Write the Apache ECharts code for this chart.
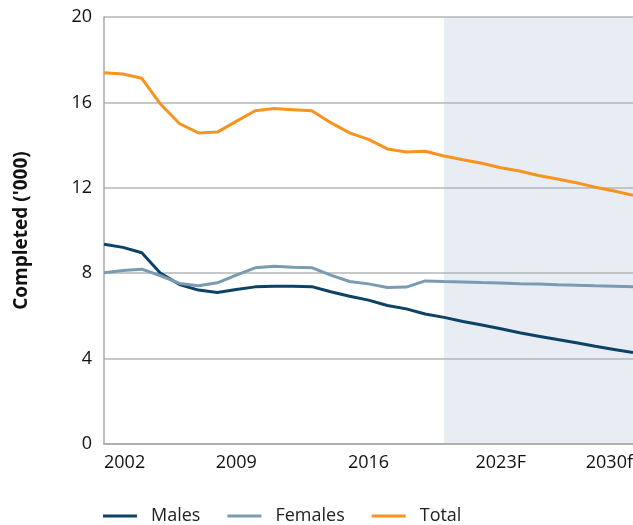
<!DOCTYPE html>
<html>
<head>
<meta charset="utf-8">
<script src="https://cdn.jsdelivr.net/npm/echarts@6/dist/echarts.min.js"></script>
<style>
html,body{margin:0;padding:0;background:#fff;}
#chart{width:633px;height:525px;}
</style>
</head>
<body>
<div id="chart"></div>
<script>
const years = [2002,2003,2004,2005,2006,2007,2008,2009,2010,2011,2012,2013,2014,2015,2016,2017,2018,2019,2020,2021,2022,2023,2024,2025,2026,2027,2028,2029,2030];
const males = [9.36,9.21,8.96,7.99,7.47,7.21,7.10,7.24,7.36,7.39,7.39,7.37,7.13,6.92,6.74,6.49,6.33,6.09,5.93,5.74,5.57,5.40,5.21,5.05,4.89,4.74,4.58,4.43,4.28];
const females = [8.02,8.13,8.19,7.88,7.52,7.41,7.55,7.91,8.25,8.32,8.28,8.26,7.91,7.61,7.50,7.33,7.35,7.64,7.61,7.59,7.56,7.54,7.51,7.49,7.46,7.44,7.41,7.39,7.36];
const total = [17.39,17.33,17.13,15.91,15.00,14.57,14.61,15.11,15.61,15.71,15.66,15.61,15.05,14.57,14.27,13.82,13.68,13.71,13.49,13.31,13.15,12.94,12.79,12.58,12.41,12.24,12.03,11.85,11.65];
const forecastStart = 2020;
const forecastEnd = 2030;
const xTickSuffix = {2023: 'F', 2030: 'f'};
const seriesNames = ['Males', 'Females', 'Total'];

const FONT = '"Open Sans", sans-serif';
const colors = ['#0c4266', '#7a9bb2', '#f7941d'];
const chart = echarts.init(document.getElementById('chart'), null, {renderer: 'canvas'});

const pair = arr => years.map((y, i) => [y, arr[i]]);

chart.setOption({
  animation: false,
  grid: {left: 104, right: 0, top: 17, bottom: 81, containLabel: false, outerBoundsMode: 'none'},
  legend: {
    data: seriesNames,
    left: 103, top: 507, padding: 0,
    itemWidth: 34, itemHeight: 3, itemGap: 27,
    icon: 'rect',
    textStyle: {fontFamily: FONT, fontSize: 18, color: '#222', padding: [0, 0, 0, 9]}
  },
  xAxis: {
    type: 'value', min: 2002, max: 2030, interval: 7, z: 1.5,
    axisLine: {show: true, onZero: false, lineStyle: {color: '#a8a8a8', width: 1.5}},
    axisTick: {show: false},
    splitLine: {show: false},
    axisLabel: {
      fontFamily: FONT, fontSize: 18, color: '#111', margin: 10,
      alignMinLabel: 'left', alignMaxLabel: 'right',
      formatter: v => String(v) + (xTickSuffix[v] || '')
    }
  },
  yAxis: {
    type: 'value', min: 0, max: 20, interval: 4, z: 1.5,
    name: "Completed ('000)", nameLocation: 'middle', nameGap: 73, nameRotate: 90,
    nameTextStyle: {fontFamily: FONT, fontSize: 19, fontWeight: 'bold', color: '#111'},
    axisLine: {show: true, lineStyle: {color: '#a8a8a8', width: 1.5}},
    axisTick: {show: false},
    splitLine: {show: true, lineStyle: {color: '#b4b6b8', width: 1.5}},
    axisLabel: {fontFamily: FONT, fontSize: 18, color: '#111', margin: 12}
  },
  series: [
    {
      type: 'line', name: '_forecast', data: [], z: 1, silent: true,
      markArea: {silent: true, itemStyle: {color: '#e8edf4'}, data: [[{xAxis: forecastStart}, {xAxis: forecastEnd}]]}
    },
    {name: seriesNames[0], type: 'line', data: pair(males), showSymbol: false, z: 3, lineStyle: {color: colors[0], width: 3}, itemStyle: {color: colors[0]}},
    {name: seriesNames[1], type: 'line', data: pair(females), showSymbol: false, z: 3, lineStyle: {color: colors[1], width: 3}, itemStyle: {color: colors[1]}},
    {name: seriesNames[2], type: 'line', data: pair(total), showSymbol: false, z: 3, lineStyle: {color: colors[2], width: 3}, itemStyle: {color: colors[2]}}
  ]
});
</script>
</body>
</html>
